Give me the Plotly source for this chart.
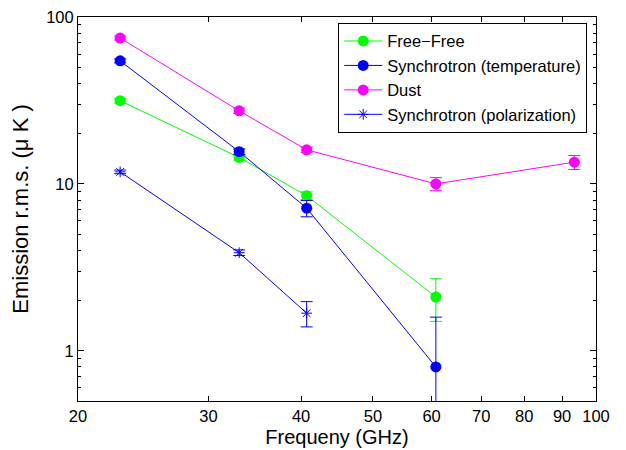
import plotly.graph_objects as go

# ---- data ----
ff_freq = [22.8, 33.0, 40.7, 60.8]
ff_val = [31.5, 14.4, 8.5, 2.1]
ff_err = [1.0, 0.5, 0.45, 0.6]

st_freq = [22.8, 33.0, 40.7, 60.8]
st_val = [54.6, 15.6, 7.15, 0.80]
st_err = [1.5, 0.6, 0.8, 0.79]

dust_freq = [22.8, 33.0, 40.7, 60.8, 93.5]
dust_val = [74.8, 27.4, 16.0, 10.0, 13.5]
dust_err = [2.0, 1.0, 0.6, 0.9, 1.3]

sp_freq = [22.8, 33.0, 40.7]
sp_val = [11.8, 3.87, 1.68]
sp_err = [0.3, 0.15, 0.29]

x_ticks = [20, 30, 40, 50, 60, 70, 80, 90, 100]
y_major = [1, 10, 100]
y_minor = [0.5, 0.6, 0.7, 0.8, 0.9, 2, 3, 4, 5, 6, 7, 8, 9, 20, 30, 40, 50, 60, 70, 80, 90]

FONT = "Liberation Sans, Arial, Helvetica, sans-serif"

fig = go.Figure()

def add(name, xs, ys, errs, color, symbol, size, lw=1):
    fig.add_trace(go.Scatter(
        x=xs, y=ys, name=name, mode="lines+markers",
        line=dict(color=color, width=1),
        marker=dict(color=color, symbol=symbol, size=size,
                    line=dict(color=color, width=lw)),
        error_y=dict(type="data", array=errs, color=color, thickness=1, width=6, visible=True),
    ))

add("Free\u2212Free", ff_freq, ff_val, ff_err, "#00ff00", "circle", 11, 0)
add("Synchrotron (temperature)", st_freq, st_val, st_err, "#0000ff", "circle", 11, 0)
add("Dust", dust_freq, dust_val, dust_err, "#ff00ff", "circle", 11, 0)
add("Synchrotron (polarization)", sp_freq, sp_val, sp_err, "#0000ff", "asterisk-open", 9, 1)

# page body has an 8px margin, so the figure is shrunk by 8px and margins shifted
fig.update_layout(
    width=618, height=442,
    margin=dict(l=70, r=30, t=9, b=49),
    paper_bgcolor="white", plot_bgcolor="white",
    font=dict(family=FONT, size=16.5, color="black"),
    showlegend=True,
    legend=dict(
        x=0.983, y=0.985, xanchor="right", yanchor="top",
        bgcolor="white", bordercolor="black", borderwidth=1,
        font=dict(family=FONT, size=16.5, color="black"),
        tracegroupgap=0, itemwidth=38,
    ),
)

fig.update_xaxes(
    type="log", range=[1.30103, 2.00001],
    tickvals=x_ticks, ticktext=[str(v) for v in x_ticks],
    ticks="inside", ticklen=5, tickcolor="black", tickwidth=1,
    showline=True, linecolor="black", linewidth=1, mirror="ticks",
    showgrid=False, zeroline=False,
    tickfont=dict(family=FONT, size=16.5),
    ticklabeloverflow="allow",
    title=dict(text="Frequeny (GHz)", font=dict(family=FONT, size=20), standoff=6),
    automargin=False,
)
fig.update_yaxes(
    type="log", range=[-0.30103, 2.00001],
    tickvals=y_major, ticktext=[str(v) for v in y_major],
    ticks="inside", ticklen=6, tickcolor="black", tickwidth=1,
    minor=dict(tickvals=y_minor, ticks="inside", ticklen=3, tickcolor="black", showgrid=False),
    showline=True, linecolor="black", linewidth=1, mirror="ticks",
    showgrid=False, zeroline=False,
    tickfont=dict(family=FONT, size=16.5),
    ticklabeloverflow="allow",
    title=dict(text="Emission r.m.s. (\u03bc K )", font=dict(family=FONT, size=22), standoff=18),
    automargin=False,
)

fig.write_html("out.html")
